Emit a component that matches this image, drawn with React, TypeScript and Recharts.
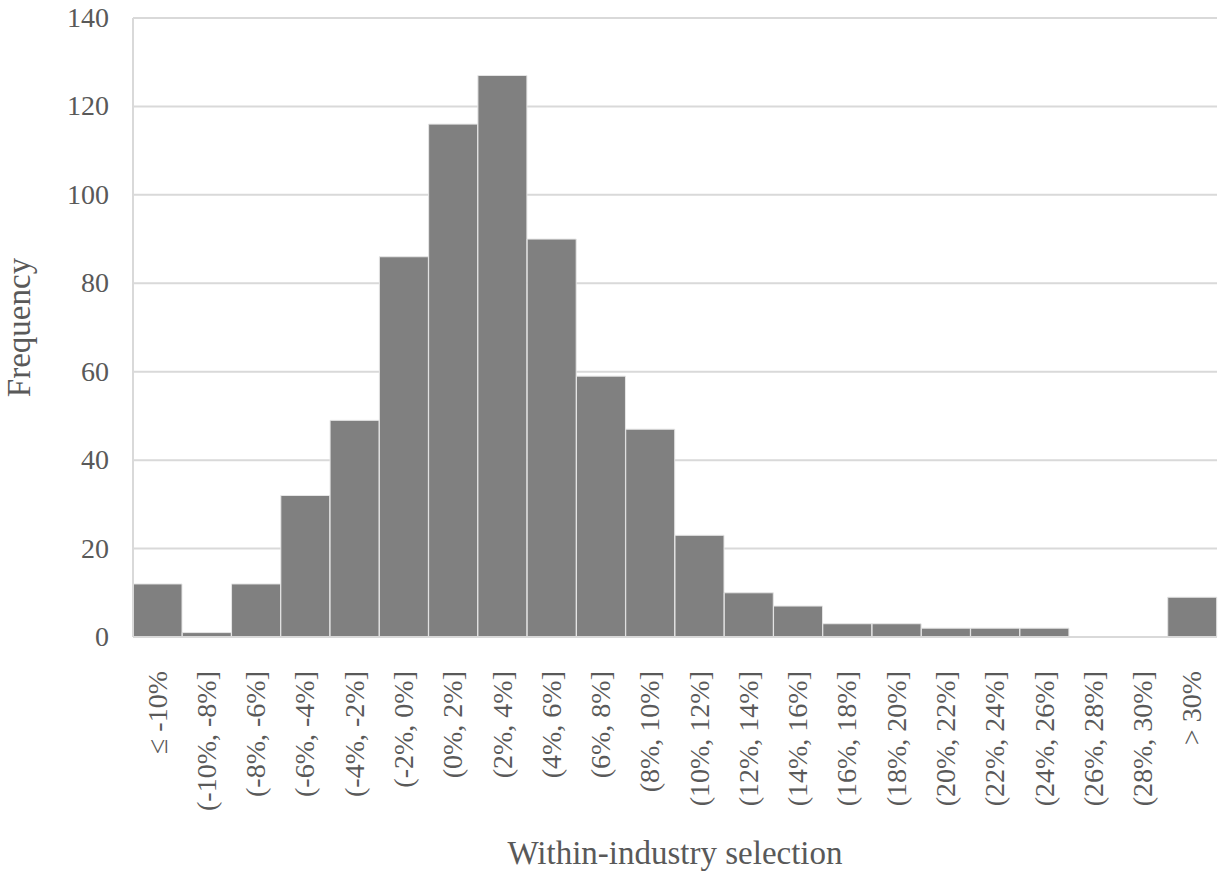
import { BarChart, Bar, XAxis, YAxis, CartesianGrid, Label } from "recharts";

const bins = [
  "≤ -10%",
  "(-10%, -8%]",
  "(-8%, -6%]",
  "(-6%, -4%]",
  "(-4%, -2%]",
  "(-2%, 0%]",
  "(0%, 2%]",
  "(2%, 4%]",
  "(4%, 6%]",
  "(6%, 8%]",
  "(8%, 10%]",
  "(10%, 12%]",
  "(12%, 14%]",
  "(14%, 16%]",
  "(16%, 18%]",
  "(18%, 20%]",
  "(20%, 22%]",
  "(22%, 24%]",
  "(24%, 26%]",
  "(26%, 28%]",
  "(28%, 30%]",
  "> 30%",
];
const frequency = [12, 1, 12, 32, 49, 86, 116, 127, 90, 59, 47, 23, 10, 7, 3, 3, 2, 2, 2, 0, 0, 9];
const yTicks = [0, 20, 40, 60, 80, 100, 120, 140];

const data = bins.map((bin, i) => ({ bin, value: frequency[i] }));

const FONT = "'Liberation Serif', 'Times New Roman', serif";
const TEXT = "#595959";
const GRID = "#d9d9d9";

const XTick = (props: any) => {
  const { x, y, payload } = props;
  return (
    <text
      x={0}
      y={0}
      transform={`translate(${x + 9},${y + 26}) rotate(-90)`}
      textAnchor="end"
      fontFamily={FONT}
      fontSize={28}
      fill={TEXT}
    >
      {payload.value}
    </text>
  );
};

const YTick = (props: any) => {
  const { x, y, payload } = props;
  return (
    <text x={x} y={y + 9} textAnchor="end" fontFamily={FONT} fontSize={28} fill={TEXT}>
      {payload.value}
    </text>
  );
};

export default function App() {
  return (
    <div style={{ position: "absolute", left: 0, top: 0, background: "#fff" }}>
      <BarChart
        width={1225}
        height={874}
        data={data}
        margin={{ top: 18, right: 8, left: 0, bottom: 0 }}
        barCategoryGap={0}
        barGap={0}
      >
        <CartesianGrid vertical={false} stroke={GRID} strokeWidth={2} />
        <XAxis
          dataKey="bin"
          interval={0}
          height={237}
          tickLine={false}
          axisLine={{ stroke: GRID, strokeWidth: 2 }}
          tick={<XTick />}
        >
          <Label
            value="Within-industry selection"
            position="insideBottom"
            offset={10}
            style={{ fontFamily: FONT, fontSize: 33, fill: TEXT }}
          />
        </XAxis>
        <YAxis
          domain={[0, 140]}
          ticks={yTicks}
          width={133}
          tickLine={false}
          tickMargin={18}
          axisLine={{ stroke: GRID, strokeWidth: 2 }}
          tick={<YTick />}
        >
          <Label
            value="Frequency"
            angle={-90}
            position="insideLeft"
            offset={18}
            style={{ fontFamily: FONT, fontSize: 33, fill: TEXT, textAnchor: "middle" }}
          />
        </YAxis>
        <Bar dataKey="value" fill="#808080" stroke="#e6e6e6" strokeWidth={1} isAnimationActive={false} />
      </BarChart>
    </div>
  );
}
